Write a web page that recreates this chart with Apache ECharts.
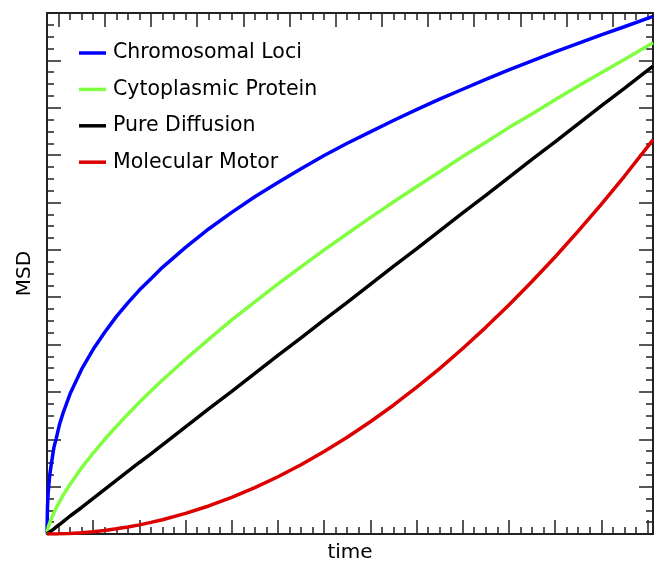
<!DOCTYPE html>
<html><head><meta charset="utf-8">
<script src="https://cdn.jsdelivr.net/npm/echarts@6/dist/echarts.min.js"></script>
<style>html,body{margin:0;padding:0;background:#fff}#c{width:657px;height:562px}</style>
</head><body><div id="c"></div>
<script>
// ---- data ----
const time = [0, 0.01, 0.02, 0.03, 0.06, 0.1, 0.15, 0.2, 0.27, 0.35,
              0.5, 0.75, 1, 1.25, 1.5, 1.75, 2, 2.25, 2.5, 3,
              3.5, 4, 4.5, 5, 5.5, 6, 6.5, 7, 7.5, 8,
              8.5, 9, 9.5, 10, 10.5, 11, 11.5, 12, 12.5, 13.12];
const chromosomalLoci = [0, 0.55, 0.78, 0.92, 1.25, 1.52, 1.83, 2.02, 2.31, 2.56,
                         2.96, 3.48, 3.90, 4.26, 4.59, 4.88, 5.15, 5.39, 5.63, 6.05,
                         6.44, 6.79, 7.12, 7.42, 7.71, 7.99, 8.25, 8.49, 8.73, 8.96,
                         9.18, 9.39, 9.60, 9.80, 9.99, 10.18, 10.36, 10.54, 10.71, 10.93];
const cytoplasmicProtein = [0, 0.07, 0.11, 0.15, 0.24, 0.34, 0.45, 0.55, 0.68, 0.82,
                            1.05, 1.40, 1.71, 2.00, 2.27, 2.53, 2.78, 3.02, 3.25, 3.69,
                            4.11, 4.52, 4.90, 5.28, 5.64, 6.00, 6.34, 6.68, 7.01, 7.33,
                            7.65, 7.97, 8.27, 8.58, 8.87, 9.17, 9.46, 9.74, 10.02, 10.37];
const pureDiffusion = [0, 0.008, 0.015, 0.023, 0.045, 0.075, 0.11, 0.15, 0.20, 0.26,
                       0.38, 0.56, 0.75, 0.94, 1.13, 1.32, 1.51, 1.69, 1.88, 2.26,
                       2.64, 3.01, 3.39, 3.77, 4.14, 4.52, 4.89, 5.27, 5.65, 6.02,
                       6.40, 6.78, 7.15, 7.53, 7.91, 8.28, 8.66, 9.04, 9.41, 9.88];
const molecularMotor = [0, 0, 0, 0, 0.0002, 0.0005, 0.001, 0.002, 0.0035, 0.006,
                        0.012, 0.027, 0.048, 0.0755, 0.109, 0.148, 0.193, 0.245, 0.302, 0.435,
                        0.592, 0.773, 0.979, 1.208, 1.462, 1.740, 2.042, 2.369, 2.719, 3.094,
                        3.493, 3.916, 4.363, 4.834, 5.330, 5.849, 6.393, 6.961, 7.553, 8.32];
const seriesNames = ['Chromosomal Loci', 'Cytoplasmic Protein', 'Pure Diffusion', 'Molecular Motor'];
const seriesValues = [chromosomalLoci, cytoplasmicProtein, pureDiffusion, molecularMotor];
const seriesColors = ['#0000ff', '#80ff40', '#000000', '#dd0000'];
const xLabel = 'time';
const yLabel = 'MSD';
const xMin = 0, xMax = 13.12, yMin = 0, yMax = 11;

// ---- tick positions (no tick labels in the chart) ----
function steps(start, end, step) { const a = []; for (let v = start; v <= end + 1e-9; v += step) a.push(+v.toFixed(4)); return a; }
const isInt = v => Math.abs(v - Math.round(v)) < 1e-6;
const bottomMajor = steps(0, xMax, 1);
const bottomMinor = steps(0.25, xMax, 0.25).filter(v => !isInt(v));
const topMajor = steps(0.25, xMax, 1);
const topMinor = steps(0.5, xMax, 0.25).filter(v => !isInt(v - 0.25));
const yMajor = steps(0, yMax, 1);
const yMinor = steps(0.25, yMax, 0.25).filter(v => !isInt(v));

const FONT = 'DejaVu Sans';
const INK = '#222';

function axis(kind, position, ticks, len, withLine, extra) {
  return Object.assign({
    type: 'value', position: position,
    min: kind === 'x' ? xMin : yMin, max: kind === 'x' ? xMax : yMax,
    axisLine: { show: withLine, onZero: false, lineStyle: { color: INK, width: 2 } },
    axisTick: { show: true, inside: true, length: len, customValues: ticks, lineStyle: { color: INK, width: 1.5 } },
    axisLabel: { show: false },
    splitLine: { show: false },
    minorTick: { show: false }
  }, extra || {});
}

const chart = echarts.init(document.getElementById('c'), null, { renderer: 'canvas' });
chart.setOption({
  animation: false,
  backgroundColor: '#fff',
  grid: { left: 47, right: 4, top: 13, bottom: 28, containLabel: false, outerBoundsMode: 'none' },
  legend: {
    orient: 'vertical', left: 79, top: 41, padding: 0,
    itemWidth: 27, itemHeight: 3.5, itemGap: 12.4,
    icon: 'rect',
    data: seriesNames,
    textStyle: { fontFamily: FONT, fontSize: 20.5, lineHeight: 24, color: '#000', padding: [0, 0, 0, 2] }
  },
  xAxis: [
    axis('x', 'bottom', bottomMajor, 14, true, {
      name: xLabel, nameLocation: 'middle', nameGap: 9,
      nameTextStyle: { fontFamily: FONT, fontSize: 20, color: '#000' }
    }),
    axis('x', 'bottom', bottomMinor, 7, false),
    axis('x', 'top', topMajor, 14, true),
    axis('x', 'top', topMinor, 7, false)
  ],
  yAxis: [
    axis('y', 'left', yMajor, 14, true, {
      name: yLabel, nameLocation: 'middle', nameGap: 12, nameRotate: 90,
      nameTextStyle: { fontFamily: FONT, fontSize: 20, color: '#000' }
    }),
    axis('y', 'left', yMinor, 7, false),
    axis('y', 'right', yMajor, 14, true),
    axis('y', 'right', yMinor, 7, false)
  ],
  series: seriesNames.map((name, i) => ({
    name: name, type: 'line', xAxisIndex: 0, yAxisIndex: 0,
    data: time.map((t, j) => [t, seriesValues[i][j]]),
    showSymbol: false, symbol: 'none',
    smooth: false,
    color: seriesColors[i],
    lineStyle: { color: seriesColors[i], width: 3.5 },
    z: 3
  }))
});
</script>
</body></html>
